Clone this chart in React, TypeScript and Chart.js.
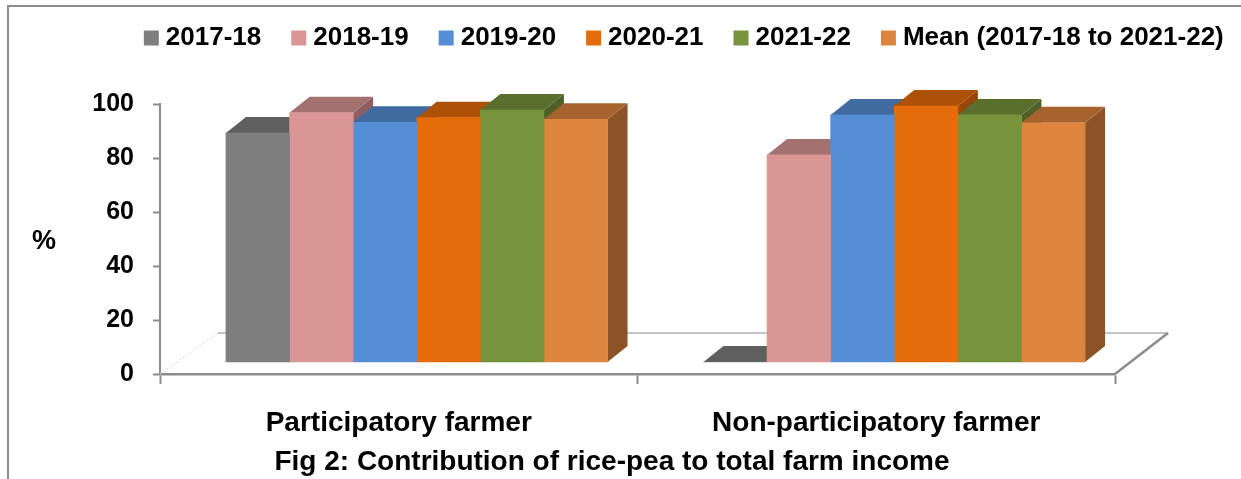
import React, { useEffect, useRef } from 'react';
import { Chart, registerables } from 'chart.js';

Chart.register(...registerables);

// ---------- data ----------
const categories = ['Participatory farmer', 'Non-participatory farmer'];
const seriesNames = ['2017-18', '2018-19', '2019-20', '2020-21', '2021-22', 'Mean (2017-18 to 2021-22)'];
const values2017_18 = [84.8, 0];
const values2018_19 = [92.3, 76.7];
const values2019_20 = [88.8, 91.5];
const values2020_21 = [90.5, 94.8];
const values2021_22 = [93.3, 91.5];
const valuesMean = [89.9, 88.6];
const yMin = 0;
const yMax = 100;
const yStep = 20;
const yAxisTitle = '%';
const chartTitle = 'Fig 2: Contribution of rice-pea to total farm income';

// ---------- styles ----------
const FONT = '"Liberation Sans", Arial, Helvetica, sans-serif';
const frontColors = ['#7f7f7f', '#d99694', '#558ed5', '#e46c0a', '#77933c', '#dd843f'];
const topColors = ['#5f5f5f', '#a37170', '#3f6ba0', '#ad5107', '#5a6e2d', '#a6632f'];
const sideColors = ['#555555', '#8d5f5e', '#375d8c', '#984706', '#4f6127', '#8c5326'];
const AXIS_GREY = '#8c8c8c';
const BAR_DX = 20;
const BAR_DY = 16;
const LEGEND_EXTRA = 43;

const allSeries = [values2017_18, values2018_19, values2019_20, values2020_21, values2021_22, valuesMean];

const bar3dPlugin = {
  id: 'bar3d',
  beforeLayout(chart: any) {
    const lg: any = chart.legend;
    if (lg && !lg.__patched) {
      const orig = lg.fit.bind(lg);
      lg.fit = function () {
        orig();
        this.height = this.height + LEGEND_EXTRA;
      };
      lg.__patched = true;
    }
  },
  beforeDatasetsDraw(chart: any) {
    const ctx: CanvasRenderingContext2D = chart.ctx;
    const a = chart.chartArea;
    // floor
    ctx.save();
    ctx.strokeStyle = '#c4c4c4';
    ctx.lineWidth = 2;
    ctx.beginPath();
    ctx.moveTo(a.left + 58, a.bottom - 41);
    ctx.lineTo(a.right + 53, a.bottom - 41);
    ctx.stroke();
    ctx.strokeStyle = AXIS_GREY;
    ctx.lineWidth = 2.5;
    ctx.beginPath();
    ctx.moveTo(a.right, a.bottom);
    ctx.lineTo(a.right + 53, a.bottom - 41);
    ctx.stroke();
    ctx.strokeStyle = '#d8d8d8';
    ctx.lineWidth = 1;
    ctx.setLineDash([2, 2]);
    ctx.beginPath();
    ctx.moveTo(a.left, a.bottom);
    ctx.lineTo(a.left + 58, a.bottom - 41);
    ctx.stroke();
    ctx.setLineDash([]);
    // side and top faces, left to right
    const n = chart.data.datasets.length;
    for (let j = 0; j < categories.length; j++) {
      for (let i = 0; i < n; i++) {
        const el: any = chart.getDatasetMeta(i).data[j];
        if (!el) continue;
        const { x, y, base, width } = el.getProps(['x', 'y', 'base', 'width'], true);
        const x0 = x - width / 2;
        const x1 = x + width / 2;
        ctx.fillStyle = sideColors[i];
        ctx.beginPath();
        ctx.moveTo(x1, y);
        ctx.lineTo(x1 + BAR_DX, y - BAR_DY);
        ctx.lineTo(x1 + BAR_DX, base - BAR_DY);
        ctx.lineTo(x1, base);
        ctx.closePath();
        ctx.fill();
        ctx.fillStyle = topColors[i];
        ctx.beginPath();
        ctx.moveTo(x0, y);
        ctx.lineTo(x0 + BAR_DX, y - BAR_DY);
        ctx.lineTo(x1 + BAR_DX, y - BAR_DY);
        ctx.lineTo(x1, y);
        ctx.closePath();
        ctx.fill();
      }
    }
    ctx.restore();
  },
  afterDraw(chart: any) {
    const ctx: CanvasRenderingContext2D = chart.ctx;
    const a = chart.chartArea;
    ctx.save();
    // outer frame
    ctx.strokeStyle = AXIS_GREY;
    ctx.lineWidth = 2;
    ctx.beginPath();
    ctx.moveTo(8, chart.height + 2);
    ctx.lineTo(8, 6);
    ctx.lineTo(chart.width + 2, 6);
    ctx.stroke();
    // y axis title
    ctx.fillStyle = '#000';
    ctx.font = `bold 27px ${FONT}`;
    ctx.textAlign = 'center';
    ctx.textBaseline = 'middle';
    ctx.fillText(yAxisTitle, 44, (a.top + a.bottom) / 2 + 3);
    // figure caption
    ctx.font = `bold 28px ${FONT}`;
    ctx.fillText(chartTitle, 612, 462);
    ctx.restore();
  },
};

export default function App() {
  const ref = useRef<HTMLCanvasElement | null>(null);

  useEffect(() => {
    if (!ref.current) return;
    const datasets = seriesNames.map((name, i) => ({
      label: name,
      data: allSeries[i].map((v, j) => ({ x: j, y: v })),
      backgroundColor: frontColors[i],
      borderWidth: 0,
      xAxisID: 'xb',
      yAxisID: 'yb',
      barThickness: 63.6,
    }));
    const chart = new Chart(ref.current, {
      type: 'bar',
      data: { labels: categories, datasets },
      plugins: [bar3dPlugin as any],
      options: {
        responsive: false,
        animation: false,
        devicePixelRatio: 1,
        layout: { padding: { top: -11, left: 88, right: -18.75, bottom: 0 } },
        plugins: {
          legend: {
            display: true,
            position: 'top',
            align: 'end',
            labels: {
              usePointStyle: true,
              pointStyle: 'rect',
              boxWidth: 3,
              boxHeight: 15,
              padding: 36,
              color: '#000',
              font: { family: FONT, size: 26, weight: 'bold' },
            },
          },
          title: { display: false },
          tooltip: { enabled: false },
        },
        scales: {
          x: {
            type: 'category',
            position: 'bottom',
            offset: true,
            grid: {
              display: true,
              offset: true,
              drawOnChartArea: false,
              drawTicks: true,
              tickLength: 10,
              tickColor: AXIS_GREY,
              tickWidth: 2,
            },
            border: { display: true, color: AXIS_GREY, width: 2.5 },
            ticks: {
              color: '#000',
              padding: 22,
              maxRotation: 0,
              font: { family: FONT, size: 28, weight: 'bold' },
            },
            afterFit: (s: any) => {
              s.height = 105;
            },
          },
          xb: {
            type: 'linear',
            position: 'bottom',
            display: false,
            offset: false,
            min: -0.5377,
            max: 1.4623,
          },
          y: {
            type: 'linear',
            position: 'left',
            min: yMin,
            max: yMax,
            grid: {
              display: true,
              drawOnChartArea: false,
              drawTicks: true,
              tickLength: 7,
              tickColor: AXIS_GREY,
              tickWidth: 2,
            },
            border: { display: true, color: AXIS_GREY, width: 2 },
            ticks: {
              display: true,
              stepSize: yStep,
              autoSkip: false,
              color: '#000',
              padding: 19,
              font: { family: FONT, size: 25, weight: 'bold' },
            },
            afterFit: (s: any) => {
              s.width = 72;
            },
          },
          yb: {
            type: 'linear',
            position: 'left',
            display: false,
            min: -4.444,
            max: 95.556,
          },
          yr: {
            type: 'linear',
            position: 'right',
            display: true,
            min: 0,
            max: 1,
            ticks: { display: false },
            grid: { display: false },
            border: { display: false },
            afterFit: (s: any) => {
              s.width = 144.75;
            },
          },
        },
      } as any,
    });
    return () => chart.destroy();
  }, []);

  return (
    <div style={{ position: 'absolute', left: 0, top: 0, width: 1241, height: 479, background: '#fff' }}>
      <canvas ref={ref} width={1241} height={479} style={{ display: 'block', width: 1241, height: 479 }} />
    </div>
  );
}
